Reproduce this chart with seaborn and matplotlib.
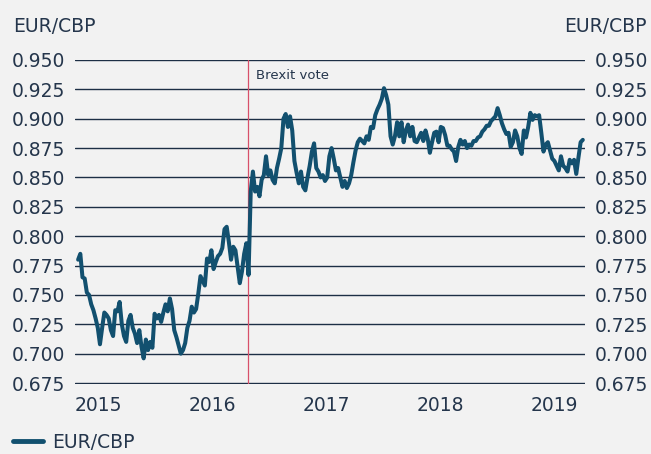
import matplotlib
matplotlib.use("Agg")
import matplotlib.pyplot as plt
import matplotlib.dates as mdates
from matplotlib.lines import Line2D
import seaborn as sns
import pandas as pd
import numpy as np

# ---- data (weekly EUR/GBP) ----
start_date = "2014-12-26"
eur_gbp = [
    0.780, 0.785, 0.765, 0.764, 0.752, 0.750, 0.742, 0.737, 0.730, 0.722,
    0.708, 0.722, 0.735, 0.733, 0.730, 0.720, 0.715, 0.737, 0.736, 0.744,
    0.725, 0.715, 0.710, 0.728, 0.733, 0.722, 0.717, 0.709, 0.720, 0.706,
    0.696, 0.712, 0.703, 0.710, 0.705, 0.734, 0.730, 0.733, 0.727, 0.735,
    0.742, 0.736, 0.747, 0.738, 0.720, 0.714, 0.707, 0.700, 0.703, 0.709,
    0.722, 0.728, 0.740, 0.735, 0.738, 0.751, 0.766, 0.762, 0.758, 0.781,
    0.778, 0.788, 0.772, 0.778, 0.783, 0.785, 0.790, 0.806, 0.808, 0.795,
    0.780, 0.791, 0.788, 0.774, 0.760, 0.770, 0.785, 0.794, 0.767, 0.838,
    0.855, 0.838, 0.842, 0.834, 0.848, 0.852, 0.868, 0.852, 0.856, 0.848,
    0.845, 0.858, 0.866, 0.875, 0.900, 0.904, 0.893, 0.902, 0.890, 0.864,
    0.854, 0.845, 0.855, 0.842, 0.839, 0.850, 0.860, 0.872, 0.879, 0.858,
    0.855, 0.850, 0.852, 0.847, 0.850, 0.868, 0.875, 0.866, 0.856, 0.858,
    0.850, 0.842, 0.847, 0.841, 0.845, 0.852, 0.863, 0.873, 0.880, 0.883,
    0.881, 0.879, 0.885, 0.882, 0.893, 0.892, 0.903, 0.908, 0.912, 0.917,
    0.926, 0.920, 0.912, 0.885, 0.878, 0.885, 0.897, 0.885, 0.897, 0.880,
    0.890, 0.895, 0.885, 0.893, 0.881, 0.880, 0.884, 0.888, 0.881, 0.890,
    0.883, 0.871, 0.880, 0.888, 0.889, 0.880, 0.893, 0.892, 0.886, 0.877,
    0.877, 0.874, 0.872, 0.864, 0.876, 0.882, 0.878, 0.881, 0.875, 0.878,
    0.877, 0.881, 0.881, 0.884, 0.885, 0.889, 0.891, 0.894, 0.894, 0.898,
    0.900, 0.902, 0.909, 0.903, 0.896, 0.891, 0.887, 0.888, 0.876, 0.880,
    0.890, 0.885, 0.875, 0.870, 0.890, 0.884, 0.893, 0.905, 0.899, 0.903,
    0.902, 0.903, 0.888, 0.872, 0.878, 0.880, 0.873, 0.866, 0.864, 0.860,
    0.856, 0.868, 0.860, 0.858, 0.855, 0.865, 0.862, 0.865, 0.853, 0.867,
    0.880, 0.882,
]
dates = pd.date_range(start_date, periods=len(eur_gbp), freq="7D")
df = pd.DataFrame({"date": dates, "EUR/CBP": eur_gbp})

y_ticks = [0.675, 0.700, 0.725, 0.750, 0.775, 0.800, 0.825, 0.850,
           0.875, 0.900, 0.925, 0.950]
x_tick_years = [2015, 2016, 2017, 2018, 2019]
brexit_date = "2016-06-23"
series_name = "EUR/CBP"

# ---- style ----
bg = "#f2f2f2"
line_col = "#12506f"
grid_col = "#1d2f45"
text_col = "#25364c"
vline_col = "#d8506a"

sns.set_theme(style="white")
plt.rcParams["font.family"] = ["DejaVu Sans"]

W, H = 651, 454
fig = plt.figure(figsize=(W / 100, H / 100), dpi=100, facecolor=bg)
ax_l, ax_r = 75, 585
ax_top, ax_bot = 59.5, 383.5
ax = fig.add_axes([ax_l / W, 1 - ax_bot / H, (ax_r - ax_l) / W, (ax_bot - ax_top) / H])
ax.set_facecolor(bg)

sns.lineplot(data=df, x="date", y="EUR/CBP", ax=ax, color=line_col,
             linewidth=2.9, legend=False, zorder=3)

ax.axvline(pd.Timestamp(brexit_date), color=vline_col, linewidth=0.9, zorder=2)
ax.text(pd.Timestamp(brexit_date) + pd.Timedelta(days=25), 0.937, "Brexit vote",
        fontsize=9.5, color=text_col, va="center", ha="left")

ax.set_ylim(0.675 - 0.0004, 0.950 + 0.0004)
ax.set_xlim(pd.Timestamp("2014-12-16"), pd.Timestamp("2019-06-07"))
ax.set_yticks(y_ticks)
ax.set_yticklabels([f"{v:.3f}" for v in y_ticks])
ax.set_xticks([pd.Timestamp(f"{y}-03-01") for y in x_tick_years])
ax.set_xticklabels([str(y) for y in x_tick_years])
ax.grid(axis="y", color=grid_col, linewidth=1.0)
ax.grid(axis="x", visible=False)
for s in ax.spines.values():
    s.set_visible(False)
ax.tick_params(axis="y", length=0, labelsize=13.5, labelcolor=text_col,
               labelleft=True, labelright=True, pad=7)
ax.tick_params(axis="x", length=0, labelsize=13.5, labelcolor=text_col, pad=9)
ax.set_xlabel("")
ax.set_ylabel("")

fig.text(13 / W, 1 - 26 / H, series_name, fontsize=13.5, color=text_col,
         ha="left", va="center")
fig.text(647 / W, 1 - 26 / H, series_name, fontsize=13.5, color=text_col,
         ha="right", va="center")

handle = Line2D([0], [0], color=line_col, linewidth=3.5)
fig.legend([handle], [series_name], loc="center left",
           bbox_to_anchor=(5 / W, 1 - 442 / H), frameon=False,
           fontsize=13.5, labelcolor=text_col, handlelength=1.6,
           handletextpad=0.5, borderaxespad=0)

fig.savefig("out.png", dpi=100, facecolor=bg)
